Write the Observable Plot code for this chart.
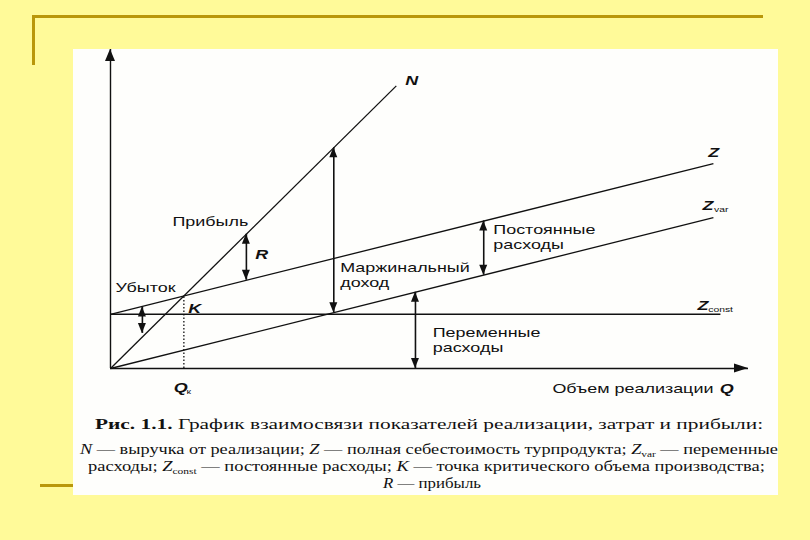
<!DOCTYPE html>
<html><head><meta charset="utf-8">
<script src="https://cdn.jsdelivr.net/npm/d3@7"></script>
<script src="https://cdn.jsdelivr.net/npm/@observablehq/plot@0.6"></script>
<style>
html,body{margin:0;padding:0;background:#FFFA99;}
#slide{position:relative;width:810px;height:540px;background:#FFFA99;overflow:hidden;}
.gold{position:absolute;background:#B9970A;}
#paper{position:absolute;left:73px;top:49px;width:705px;height:446px;background:#FEFEFC;}
#chart{position:absolute;left:0;top:0;}
.cap{position:absolute;white-space:nowrap;font-family:"Liberation Serif","Times New Roman",serif;color:#111;line-height:1;transform-origin:0 0;}
.cap sub{font-size:0.62em;line-height:0;vertical-align:-0.3em;}
</style></head>
<body><div id="slide">
<div class="gold" style="left:32px;top:15px;width:731px;height:3px"></div>
<div class="gold" style="left:32px;top:15px;width:3px;height:50px"></div>
<div class="gold" style="left:40px;top:484px;width:34px;height:3px"></div>
<div id="paper"></div>
<div id="chart"></div>
<div id="caption"></div>
</div>
<script>
// ---- chart data (Q = sales volume, value = money), arbitrary units ----
const lineNames = ["N", "Z", "Zvar", "Zconst"];
const lineQ1 = [0, 0, 0, 0];
const lineV1 = [0, 17, 0, 17];
const lineQ2 = [44.8, 94.5, 94.5, 95.6];
const lineV2 = [88.6, 64.2, 47.3, 17];

const breakEvenQ = [11.5];
const breakEvenV = [22.75];

// double-headed arrows: loss, profit R, marginal income, fixed costs, variable costs
const arrowQ = [5, 21.3, 35, 58.5, 47.8];
const arrowTop = [19.3, 42.1, 69.2, 46.25, 23.9];
const arrowBottom = [11, 27.65, 17.5, 29.25, 0];

// text labels
const labelText = ["Прибыль", "Убыток", "Маржинальный\nдоход", "Постоянные\nрасходы", "Переменные\nрасходы"];
const labelQ = [9.7, 0.8, 36.0, 60.0, 50.5];
const labelV = [46.1, 25.4, 29.5, 41.4, 9.1];

const axisTitle = ["Объем реализации"];
const axisTitleQ = [94.5];
const axisTitleV = [-6.3];

const symbolText = ["N", "Z", "Z", "Z", "R", "K", "Q", "Q"];
const symbolQ = [46.2, 93.7, 92.8, 92.0, 22.7, 12.2, 9.9, 95.5];
const symbolV = [90.3, 67.7, 51.1, 19.7, 35.7, 18.8, -6.0, -6.3];

const subText = ["var", "const", "к"];
const subQ = [94.6, 93.7, 11.9];
const subV = [49.8, 18.5, -7.2];

// caption
const captionLines = [
  "<b>Рис. 1.1.</b> График взаимосвязи показателей реализации, затрат и прибыли:",
  "<i>N</i> — выручка от реализации; <i>Z</i> — полная себестоимость турпродукта; <i>Z</i><sub>var</sub> — переменные",
  "расходы; <i>Z</i><sub>const</sub> — постоянные расходы; <i>K</i> — точка критического объема производства;",
  "<i>R</i> — прибыль"
];

// ---- build tables ----
const lines = lineNames.map((name, i) => ({name, q1: lineQ1[i], v1: lineV1[i], q2: lineQ2[i], v2: lineV2[i]}));
const arrows = arrowQ.map((q, i) => ({q, top: arrowTop[i], bottom: arrowBottom[i]}));
const labels = labelText.map((t, i) => ({t, q: labelQ[i], v: labelV[i]}));
const titles = axisTitle.map((t, i) => ({t, q: axisTitleQ[i], v: axisTitleV[i]}));
const symbols = symbolText.map((t, i) => ({t, q: symbolQ[i], v: symbolV[i]}));
const subs = subText.map((t, i) => ({t, q: subQ[i], v: subV[i]}));
const breakEven = breakEvenQ.map((q, i) => ({q, v: breakEvenV[i]}));

const ink = "#111";

function heads(index, scales) {
  const x = scales.x, y = scales.y;
  const g = d3.create("svg:g").attr("fill", ink);
  const tri = (px, py, dir, w, h) => {
    let p;
    if (dir === "up") p = [[px, py], [px - w / 2, py + h], [px + w / 2, py + h]];
    else if (dir === "down") p = [[px, py], [px - w / 2, py - h], [px + w / 2, py - h]];
    else p = [[px, py], [px - h, py - w / 2], [px - h, py + w / 2]];
    g.append("path").attr("d", "M" + p.map(d => d.join(",")).join("L") + "Z");
  };
  arrows.forEach(a => {
    tri(x(a.q), y(a.top), "up", 8, 10);
    tri(x(a.q), y(a.bottom), "down", 8, 10);
  });
  tri(x(0), y(100), "up", 10, 12);
  tri(x(100), y(0), "right", 9, 14);
  return g.node();
}

const chart = Plot.plot({
  width: 810,
  height: 540,
  marginTop: 49,
  marginRight: 62,
  marginBottom: 172,
  marginLeft: 110,
  x: {domain: [0, 100], axis: null},
  y: {domain: [0, 100], axis: null},
  style: {background: "transparent", fontFamily: "'Liberation Sans', Arial, sans-serif", overflow: "visible"},
  marks: [
    Plot.ruleX([0], {y1: 0, y2: 100, stroke: ink, strokeWidth: 1.4}),
    Plot.ruleY([0], {x1: 0, x2: 100, stroke: ink, strokeWidth: 1.4}),
    Plot.link(lines, {x1: "q1", y1: "v1", x2: "q2", y2: "v2", stroke: ink, strokeWidth: 1.3}),
    Plot.ruleX(breakEven, {x: "q", y1: 0, y2: "v", stroke: ink, strokeWidth: 1.3, strokeDasharray: "1.5,2"}),
    Plot.ruleX(arrows, {x: "q", y1: "bottom", y2: "top", stroke: ink, strokeWidth: 1.6}),
    heads,
    Plot.text(labels, {x: "q", y: "v", text: "t", textAnchor: "start", lineAnchor: "middle", lineHeight: 1.2, fontSize: 13, fill: ink}),
    Plot.text(titles, {x: "q", y: "v", text: "t", textAnchor: "end", lineAnchor: "middle", fontSize: 13, fill: ink}),
    Plot.text(symbols, {x: "q", y: "v", text: "t", textAnchor: "start", lineAnchor: "middle", fontSize: 13, fontStyle: "italic", fontWeight: "bold", fill: ink}),
    Plot.text(subs, {x: "q", y: "v", text: "t", textAnchor: "start", lineAnchor: "middle", fontSize: 7.5, fill: ink})
  ]
});

// the scanned figure is stretched horizontally: widen the glyphs around their anchors
chart.querySelectorAll("text").forEach(t => {
  const tr = t.getAttribute("transform");
  if (tr) t.setAttribute("transform", tr + " scale(1.38,1)");
});
document.getElementById("chart").append(chart);

// caption lines, fitted to the widths in the reference
const capLeft = [95, 80, 88, 383];
const capWidth = [668, 698, 677, 98];
const capBase = [430, 455, 472, 489];
const capSize = [15, 14, 14, 14];
const capBox = document.getElementById("caption");
captionLines.forEach((html, i) => {
  const d = document.createElement("div");
  d.className = "cap";
  d.innerHTML = html;
  d.style.fontSize = capSize[i] + "px";
  d.style.left = capLeft[i] + "px";
  d.style.top = (capBase[i] - 0.84 * capSize[i]) + "px";
  capBox.append(d);
  const w = d.getBoundingClientRect().width;
  d.style.transform = "scaleX(" + (capWidth[i] / w).toFixed(3) + ")";
});
</script>
</body></html>
